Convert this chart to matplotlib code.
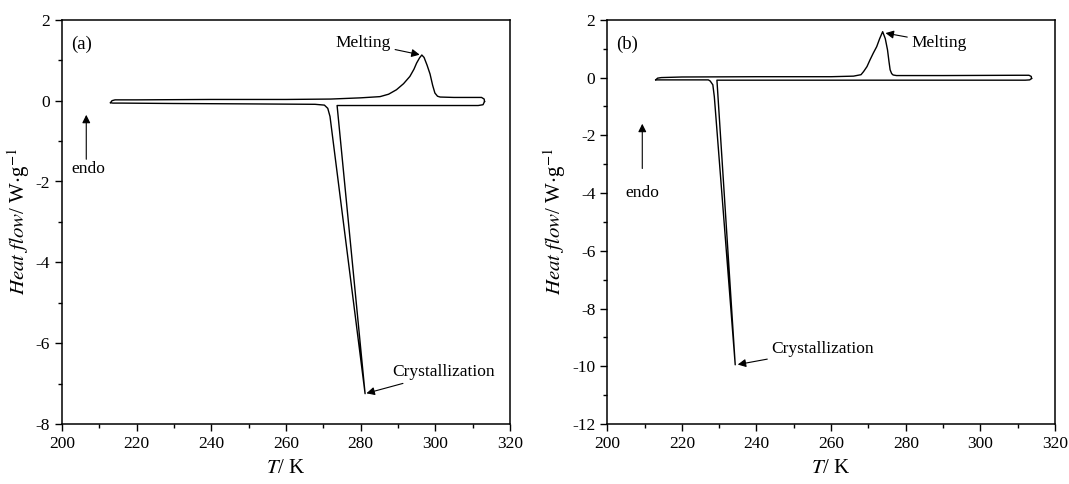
import numpy as np
import matplotlib
matplotlib.use('Agg')
import matplotlib.pyplot as plt
from matplotlib.ticker import MultipleLocator

plt.rcParams['font.family'] = ['Liberation Serif', 'DejaVu Serif']
plt.rcParams['mathtext.fontset'] = 'stix'
plt.rcParams['axes.unicode_minus'] = False

# ----------------------------------------------------------------------------------
# Data
# ----------------------------------------------------------------------------------
# (a) heating run (upper branch, melting peak)
a_heat_T = [213.0, 213.4, 214.2, 220, 240, 260, 272, 280, 285.2, 287.5, 289.6,
            291.5, 293.2, 294.3, 295.0, 295.8, 296.4, 297.0, 297.8, 298.6, 299.3,
            299.9, 300.6, 301.3, 305, 310, 312.4, 313.1, 313.2]
a_heat_HF = [-0.05, 0.0, 0.02, 0.02, 0.03, 0.03, 0.04, 0.07, 0.1, 0.16, 0.27,
             0.42, 0.6, 0.78, 0.93, 1.06, 1.13, 1.07, 0.88, 0.66, 0.38,
             0.19, 0.11, 0.09, 0.08, 0.08, 0.08, 0.04, -0.02]
# (a) cooling run (lower branch, crystallization spike)
a_cool_T = [313.2, 312.8, 311.5, 300, 285, 273.7, 281.2, 271.8, 271.2, 270.3,
            267.8, 250, 230, 216, 213.6, 213.0]
a_cool_HF = [-0.02, -0.1, -0.12, -0.12, -0.12, -0.12, -7.25, -0.39, -0.19, -0.11,
             -0.09, -0.08, -0.07, -0.06, -0.06, -0.05]

# (b) heating run
b_heat_T = [213.0, 213.5, 214.5, 220, 240, 260, 266.0, 268.0, 268.7, 269.6,
            270.4, 271.3, 272.2, 273.0, 273.8, 274.5, 275.1, 275.5, 275.8,
            276.2, 276.6, 277.5, 290, 310, 313.0, 313.6, 313.7]
b_heat_HF = [-0.08, -0.02, 0.0, 0.02, 0.03, 0.03, 0.05, 0.1, 0.21, 0.38,
             0.61, 0.85, 1.07, 1.35, 1.59, 1.35, 0.96, 0.55, 0.27,
             0.14, 0.09, 0.07, 0.07, 0.08, 0.08, 0.04, -0.03]
# (b) cooling run
b_cool_T = [313.7, 313.2, 312.0, 300, 260, 229.4, 234.3, 228.7, 228.3, 227.6,
            227.1, 220, 214.5, 213.4, 213.0]
b_cool_HF = [-0.03, -0.08, -0.09, -0.09, -0.09, -0.09, -9.95, -0.66, -0.25,
             -0.12, -0.08, -0.08, -0.08, -0.08, -0.08]

panels = [
    dict(label='(a)', heat=(a_heat_T, a_heat_HF), cool=(a_cool_T, a_cool_HF),
         ylim=(-8, 2), melt_pk=(296.2, 1.13), melt_txt=(273.3, 1.43),
         cry_pk=(281.2, -7.25), cry_txt=(288.6, -6.72),
         endo=(206.5, -0.35, -1.45), endo_txt=(207.0, -1.7),
         pos=[0.058, 0.124, 0.419, 0.835]),
    dict(label='(b)', heat=(b_heat_T, b_heat_HF), cool=(b_cool_T, b_cool_HF),
         ylim=(-12, 2), melt_pk=(274.2, 1.55), melt_txt=(281.5, 1.2),
         cry_pk=(234.6, -9.95), cry_txt=(244.0, -9.4),
         endo=(209.4, -1.6, -3.15), endo_txt=(209.4, -4.0),
         pos=[0.568, 0.124, 0.419, 0.835]),
]

fig = plt.figure(figsize=(10.69, 4.84), dpi=100)

for p in panels:
    ax = fig.add_axes(p['pos'])
    ax.plot(*p['heat'], color='black', lw=1.0)
    ax.plot(*p['cool'], color='black', lw=1.0)

    ax.set_xlim(200, 320)
    ax.set_ylim(*p['ylim'])
    ax.xaxis.set_major_locator(MultipleLocator(20))
    ax.xaxis.set_minor_locator(MultipleLocator(10))
    ax.yaxis.set_major_locator(MultipleLocator(2))
    ax.yaxis.set_minor_locator(MultipleLocator(1))
    ax.tick_params(which='both', direction='out', top=False, right=False,
                   labelsize=12.5, width=1.0)
    ax.tick_params(which='major', length=5)
    ax.tick_params(which='minor', length=3)
    for s in ax.spines.values():
        s.set_linewidth(1.1)

    ax.set_xlabel(r'$\it{T}$/ K', fontsize=15, labelpad=5)
    ax.set_ylabel(r'$\it{Heat\ flow}$/ W$\cdot$g$^{-1}$', fontsize=15, labelpad=3)

    ax.text(0.02, 0.96, p['label'], transform=ax.transAxes, fontsize=13.5,
            ha='left', va='top')

    arrow = dict(arrowstyle='-|>', color='black', lw=0.8, mutation_scale=12,
                 shrinkA=1, shrinkB=1)
    ax.annotate('Melting', xy=p['melt_pk'], xytext=p['melt_txt'], fontsize=12.5,
                ha='left', va='center', arrowprops=arrow)
    ax.annotate('Crystallization', xy=p['cry_pk'], xytext=p['cry_txt'],
                fontsize=12.5, ha='left', va='center', arrowprops=arrow)
    ex, ey_top, ey_bot = p['endo']
    ax.annotate('', xy=(ex, ey_top), xytext=(ex, ey_bot),
                arrowprops=dict(arrowstyle='-|>', color='black', lw=0.8,
                                mutation_scale=12, shrinkA=0, shrinkB=0))
    ax.text(*p['endo_txt'], 'endo', fontsize=12.5, ha='center', va='center')

fig.savefig('out.png', dpi=100)
